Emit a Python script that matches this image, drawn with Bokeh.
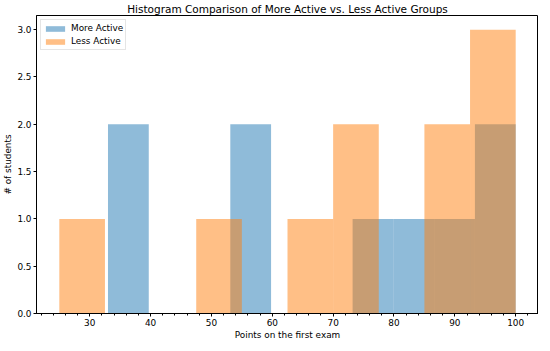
from bokeh.plotting import figure
from bokeh.embed import file_html
from bokeh.resources import INLINE
from bokeh.models import FixedTicker, Range1d, PrintfTickFormatter

# Histogram bin edges and counts
more_edges = [33.0, 39.7, 46.4, 53.1, 59.8, 66.5, 73.2, 79.9, 86.6, 93.3, 100.0]
more_counts = [2, 0, 0, 2, 0, 0, 1, 1, 1, 2]
less_edges = [25.0, 32.5, 40.0, 47.5, 55.0, 62.5, 70.0, 77.5, 85.0, 92.5, 100.0]
less_counts = [1, 0, 0, 1, 0, 1, 2, 0, 2, 3]

x_ticks = [30, 40, 50, 60, 70, 80, 90, 100]
x_minor = [v for v in range(22, 104, 2) if v % 10 != 0]
y_ticks = [0.0, 0.5, 1.0, 1.5, 2.0, 2.5, 3.0]

TITLE = "Histogram Comparison of More Active vs. Less Active Groups"
FONT = "DejaVu Sans"
FW, FH = 502, 298

p = figure(frame_width=FW, frame_height=FH, output_backend="svg", toolbar_location=None,
           x_range=Range1d(21.25, 103.75), y_range=Range1d(0, 3.15), title=TITLE,
           min_border_left=32, min_border_right=0, min_border_top=0, min_border_bottom=26)

p.title.align = "center"
p.title.text_font = FONT
p.title.text_font_size = "10.5px"
p.title.text_font_style = "normal"
p.title.text_color = "black"
p.title.standoff = 1
p.title.offset = 0

p.quad(left=more_edges[:-1], right=more_edges[1:], bottom=0, top=more_counts,
       fill_color="#1f77b4", fill_alpha=0.5, line_color=None, legend_label="More Active")
p.quad(left=less_edges[:-1], right=less_edges[1:], bottom=0, top=less_counts,
       fill_color="#ff7f0e", fill_alpha=0.5, line_color=None, legend_label="Less Active")

p.xgrid.visible = False
p.ygrid.visible = False
p.outline_line_color = "black"
p.outline_line_width = 1
p.background_fill_color = "white"

p.xaxis.ticker = FixedTicker(ticks=x_ticks, minor_ticks=x_minor)
p.yaxis.ticker = FixedTicker(ticks=y_ticks)
p.yaxis.formatter = PrintfTickFormatter(format="%.1f")

for ax in (p.xaxis, p.yaxis):
    ax.axis_line_color = "black"
    ax.major_tick_line_color = "black"
    ax.minor_tick_line_color = "black"
    ax.major_tick_in = 0
    ax.major_tick_out = 3
    ax.minor_tick_in = 0
    ax.minor_tick_out = 2
    ax.major_label_text_font = FONT
    ax.major_label_text_font_size = "8.9px"
    ax.major_label_text_color = "black"
    ax.axis_label_text_font = FONT
    ax.axis_label_text_font_size = "8.9px"
    ax.axis_label_text_font_style = "normal"
    ax.axis_label_text_color = "black"
    ax.major_label_standoff = 2
    ax.axis_label_standoff = 1
p.yaxis.minor_tick_out = 0
p.yaxis.minor_tick_line_color = None

p.xaxis.axis_label = "Points on the first exam"
p.yaxis.axis_label = "# of students"

p.legend.location = "top_left"
p.legend.margin = 4
p.legend.padding = 2
p.legend.spacing = 1
p.legend.glyph_width = 24
p.legend.glyph_height = 7
p.legend.label_height = 12
p.legend.label_standoff = 4
p.legend.label_text_font = FONT
p.legend.label_text_font_size = "8.9px"
p.legend.label_text_color = "black"
p.legend.border_line_color = "#cccccc"
p.legend.border_line_width = 1
p.legend.background_fill_alpha = 0.8

open("out.html", "w").write(file_html(p, INLINE))
